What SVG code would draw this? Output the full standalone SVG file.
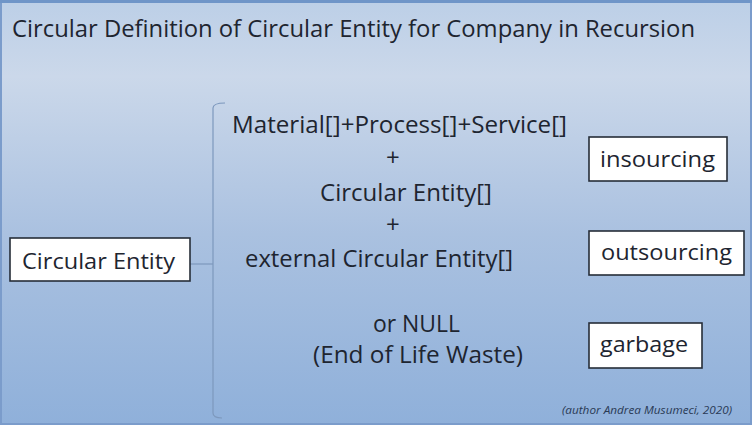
<svg xmlns="http://www.w3.org/2000/svg" width="752" height="425" viewBox="0 0 752 425">
<defs>
<linearGradient id="bg" x1="0" y1="0" x2="0" y2="1">
<stop offset="0" stop-color="#bccfe7"/>
<stop offset="0.18" stop-color="#cbd8ea"/>
<stop offset="0.55" stop-color="#aac1e0"/>
<stop offset="1" stop-color="#8fb0da"/>
</linearGradient>
<style>
.t{font-family:"Open Sans","Noto Sans",sans-serif;fill:#1e2530}
.b{font-size:24px;text-anchor:start}
.box{fill:#ffffff;stroke:#262d38;stroke-width:1.6}
.bt{font-family:"Open Sans","Noto Sans",sans-serif;fill:#1e2530;font-size:22px}
.conn{fill:none;stroke:#7d98bd;stroke-width:1.2}
</style>
</defs>
<rect x="0" y="0" width="752" height="425" fill="url(#bg)"/>
<rect x="1" y="1" width="750" height="423" fill="none" stroke="#7b9ccb" stroke-width="2"/>
<rect x="0" y="0" width="752" height="3" fill="#6f95c8"/>
<text class="t" x="12" y="37" font-size="23" textLength="683" lengthAdjust="spacingAndGlyphs">Circular Definition of Circular Entity for Company in Recursion</text>
<g id="connectors">
<path class="conn" d="M225,103 Q213,103 213,108 L213,413 Q213,418 222,418"/>
<path class="conn" d="M190,264 L213,264"/>
</g>
<g id="circular-entity">
<rect class="box" x="10" y="238" width="180" height="43"/>
<text class="bt" x="22" y="269" textLength="153" lengthAdjust="spacingAndGlyphs">Circular Entity</text>
</g>
<g id="definition">
<text class="t b" x="232" y="133" textLength="335" lengthAdjust="spacingAndGlyphs">Material[]+Process[]+Service[]</text>
<text class="t b" x="386" y="166">+</text>
<text class="t b" x="320" y="201" textLength="172" lengthAdjust="spacingAndGlyphs">Circular Entity[]</text>
<text class="t b" x="386" y="233">+</text>
<text class="t b" x="245" y="267" textLength="268" lengthAdjust="spacingAndGlyphs">external Circular Entity[]</text>
<text class="t b" x="373" y="332" textLength="87" lengthAdjust="spacingAndGlyphs">or NULL</text>
<text class="t b" x="313" y="363" textLength="210" lengthAdjust="spacingAndGlyphs">(End of Life Waste)</text>
</g>
<g id="insourcing">
<rect class="box" x="589" y="137" width="138" height="44"/>
<text class="bt" x="600" y="167" textLength="115" lengthAdjust="spacingAndGlyphs">insourcing</text>
</g>
<g id="outsourcing">
<rect class="box" x="589" y="231" width="155" height="44"/>
<text class="bt" x="601" y="260" textLength="131" lengthAdjust="spacingAndGlyphs">outsourcing</text>
</g>
<g id="garbage">
<rect class="box" x="589" y="323" width="113" height="45"/>
<text class="bt" x="600" y="352" textLength="88" lengthAdjust="spacingAndGlyphs">garbage</text>
</g>
<text x="562" y="414" font-family="'Open Sans','Noto Sans',sans-serif" font-size="10" font-style="italic" fill="#2a3a55" textLength="170" lengthAdjust="spacingAndGlyphs">(author Andrea Musumeci, 2020)</text>
</svg>
